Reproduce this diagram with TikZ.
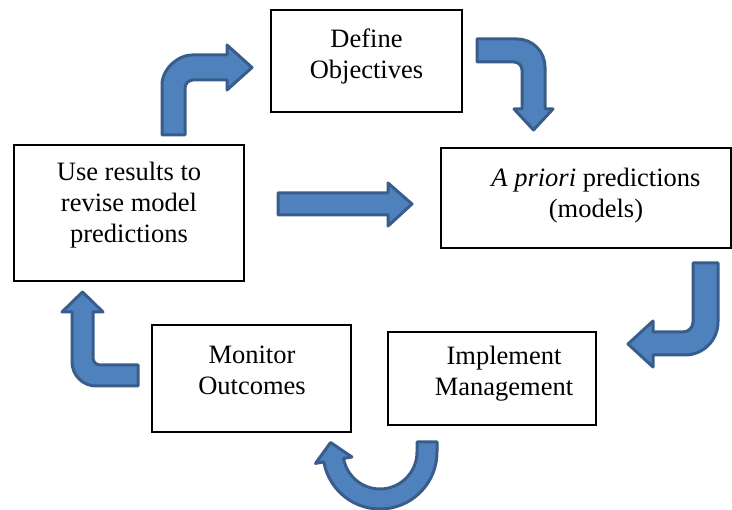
\documentclass[tikz,border=0pt]{standalone}
\usepackage{fontspec}
\setmainfont{Liberation Serif}
\definecolor{arrfill}{HTML}{4F81BD}
\definecolor{arrline}{HTML}{385D8A}
\begin{document}
\begin{tikzpicture}[x=1pt,y=-1pt,
  box/.style={draw=black, line width=2pt, rectangle, inner sep=0pt},
  lbl/.style={font=\fontsize{26.5}{31}\selectfont, align=center, inner sep=0pt},
  blockarrow/.style={fill=arrfill, draw=arrline, line width=3pt, line join=round}]
\useasboundingbox (0,0) rectangle (732,510);
% boxes
\node[box, minimum width=191pt, minimum height=102pt] (def) at (366.5,61) {};
\node[box, minimum width=290pt, minimum height=100pt] (apr) at (586,198) {};
\node[box, minimum width=230pt, minimum height=136pt] (use) at (129,213) {};
\node[box, minimum width=199pt, minimum height=107pt] (mon) at (251.5,378.5) {};
\node[box, minimum width=208pt, minimum height=93pt] (imp) at (492,378.5) {};
% labels
\node[lbl] (deft) at (366.5,56) {Define\\Objectives};
\node[lbl] (aprt) at (596,195.5) {\textit{A priori} predictions\\(models)};
\node[lbl] (uset) at (129,205.5) {Use results to\\revise model\\predictions};
\node[lbl] (mont) at (252,370) {Monitor\\Outcomes};
\node[lbl] (impt) at (504,374) {Implement\\Management};
% arrow: use -> define (up then right)
\draw[blockarrow] (162,135) -- (162,85) .. controls (162,68.4) and (178.6,55) .. (192,55)
  -- (227,55) -- (227,45) -- (252,67.5) -- (227,90) -- (227,80) -- (193,80)
  .. controls (188.6,80) and (185,83.6) .. (185,88) -- (185,135) -- cycle;
% arrow: define -> a priori (right then down)
\draw[blockarrow] (477,39) -- (517,39) .. controls (532.5,39) and (545,51.5) .. (545,67)
  -- (545,109) -- (553,109) -- (533.5,130) -- (514,109) -- (522,109) -- (522,70)
  .. controls (522,65.6) and (518.4,62) .. (514,62) -- (477,62) -- cycle;
% arrow: a priori -> implement (down then left)
\draw[blockarrow] (693,263) -- (718,263) -- (718,322) .. controls (718,340.2) and (703.2,355) .. (685,355)
  -- (653,355) -- (653,367) -- (628,344) -- (653,321) -- (653,332) -- (683,332)
  .. controls (688.5,332) and (693,327.5) .. (693,322) -- cycle;
% arrow: implement -> monitor (U-turn)
\draw[blockarrow] (417,442) -- (437,442) -- (437,452)
  -- plot[domain=0:170, samples=50] ({380+57*cos(\x)},{452+57*sin(\x)})
  -- (315.5,463.4) -- (330.6,442.5) -- (351.9,457.0)
  -- plot[domain=170:0, samples=50] ({380+37*cos(\x)},{452+37*sin(\x)})
  -- (417,452) -- cycle;
% arrow: monitor -> use (left then up)
\draw[blockarrow] (138,365) -- (138,386) -- (96,386) .. controls (82.8,386) and (72,375.2) .. (72,362)
  -- (72,312) -- (62,312) -- (82.5,292) -- (103,312) -- (93,312) -- (93,358)
  .. controls (93,361.9) and (96.1,365) .. (100,365) -- cycle;
% arrow: use -> a priori (straight)
\draw[blockarrow] (278,193) -- (388,193) -- (388,183) -- (412,204) -- (388,226) -- (388,215) -- (278,215) -- cycle;
\end{tikzpicture}
\end{document}
